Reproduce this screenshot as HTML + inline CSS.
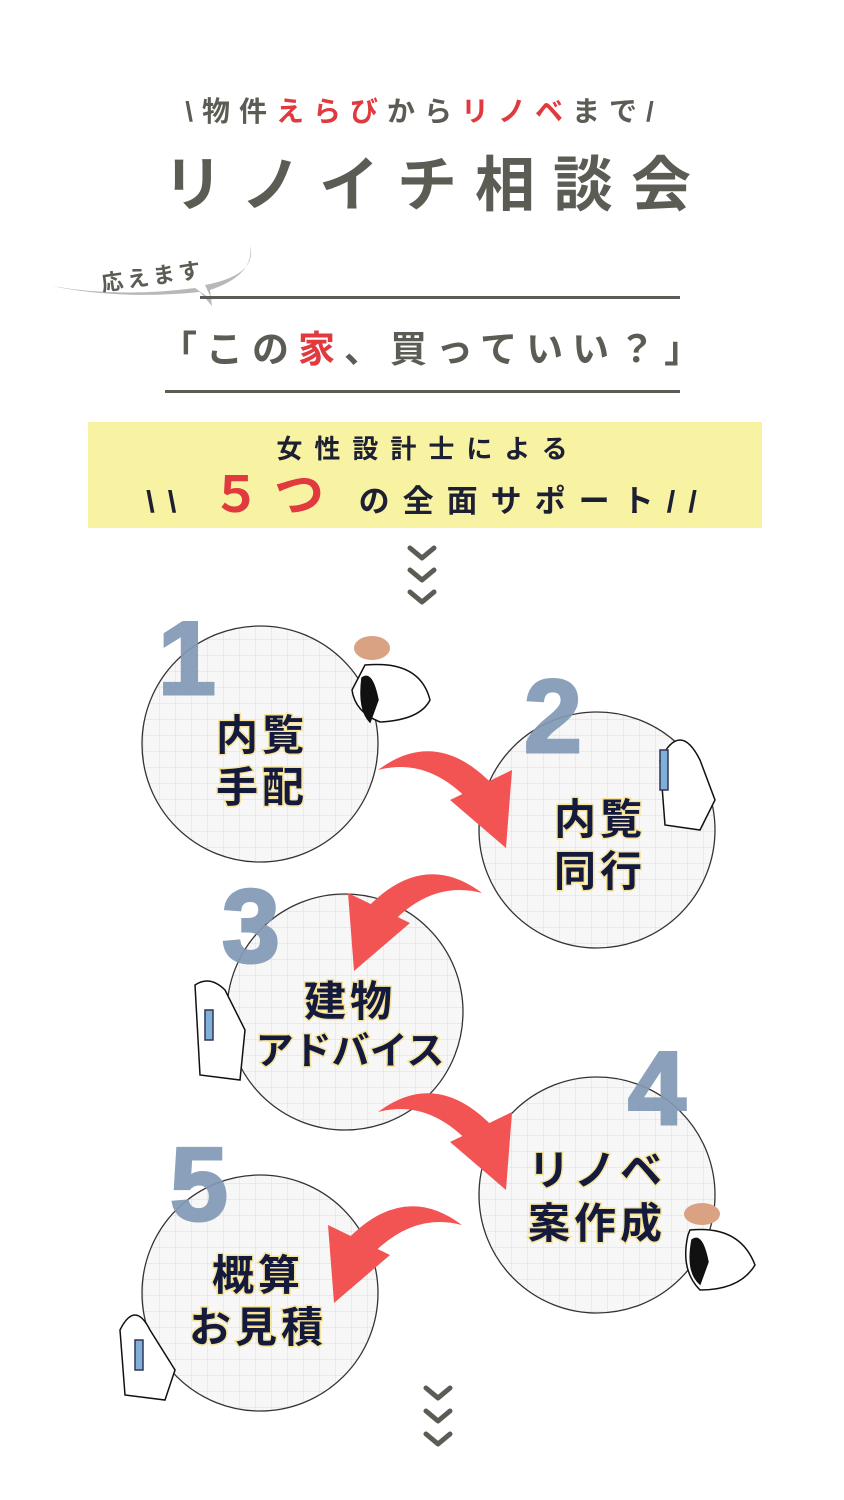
<!DOCTYPE html>
<html><head><meta charset="utf-8"><style>
html,body{margin:0;padding:0;background:#fff;}
svg{display:block;}
.jp{font-family:"Liberation Sans","Noto Sans CJK JP",sans-serif;}
</style></head><body>
<svg width="844" height="1500" viewBox="0 0 844 1500" xmlns="http://www.w3.org/2000/svg" class="jp">
<defs>
<pattern id="g" width="16" height="16" patternUnits="userSpaceOnUse">
<rect width="16" height="16" fill="#f7f7f7"/>
<path d="M16 0V16M0 16H16" stroke="#d9dce1" stroke-width="1"/>
</pattern>
<g id="arrA">
<path d="M0,0 Q60,-45 118,18 L96,36 Q52,-14 0,0 Z" fill="#f25454"/>
<polygon points="72,30 134,0 128,78" fill="#f25454"/>
</g>
</defs>

<!-- Header -->
<text x="424" y="121" text-anchor="middle" font-size="28" font-weight="bold" fill="#5b5d55" letter-spacing="9">\物件<tspan fill="#e0393e">えらび</tspan>から<tspan fill="#e0393e">リノベ</tspan>まで/</text>
<text x="436" y="206" text-anchor="middle" font-size="60" font-weight="bold" fill="#5b5d55" letter-spacing="18">リノイチ相談会</text>

<!-- bubble -->
<path d="M52,286 Q120,300 200,292 L212,306 L210,290 Q255,275 250,245 Q258,275 205,285 L212,300 L195,288 Q120,298 52,286 Z" fill="#b8b8b8"/>
<text x="100" y="283" font-size="22" font-weight="bold" fill="#5b5d55" letter-spacing="4" transform="rotate(-8 160 270)">応えます</text>

<rect x="200" y="296" width="480" height="3" fill="#5b5d55"/>
<text x="160" y="362" font-size="37" font-weight="bold" fill="#5b5d55" letter-spacing="9">「この<tspan fill="#e0393e">家</tspan>、買っていい？」</text>
<rect x="165" y="390" width="515" height="3" fill="#5b5d55"/>

<!-- yellow box -->
<rect x="88" y="422" width="674" height="106" fill="#f8f2a3"/>
<text x="428" y="458" text-anchor="middle" font-size="26" font-weight="bold" fill="#1d1f33" letter-spacing="12">女性設計士による</text>
<text x="428" y="512" text-anchor="middle" font-size="31" font-weight="bold" fill="#1d1f33" letter-spacing="13">\\ <tspan fill="#e0393e" font-size="50">５つ</tspan> の全面サポート//</text>

<!-- chevrons -->
<g fill="none" stroke="#5b5d55" stroke-width="5" stroke-linecap="round" stroke-linejoin="round">
<path d="M410,548 L422,558 L434,548 M410,570 L422,580 L434,570 M410,592 L422,602 L434,592"/>
<path d="M426,1388 L438,1398 L450,1388 M426,1411 L438,1421 L450,1411 M426,1434 L438,1444 L450,1434"/>
</g>

<!-- circles -->
<g stroke="#333" stroke-width="1.3" fill="url(#g)">
<circle cx="260" cy="744" r="118"/>
<circle cx="597" cy="830" r="118"/>
<circle cx="345" cy="1012" r="118"/>
<circle cx="597" cy="1195" r="118"/>
<circle cx="260" cy="1293" r="118"/>
</g>

<!-- numbers -->
<g font-size="104" font-weight="bold" fill="#8299b5" stroke="#8299b5" stroke-width="3" opacity="0.92">
<text x="158" y="694">1</text>
<text x="524" y="752">2</text>
<text x="222" y="962">3</text>
<text x="628" y="1124">4</text>
<text x="170" y="1220">5</text>
</g>

<!-- arrows -->
<use href="#arrA" transform="translate(378,770)"/>
<use href="#arrA" transform="translate(378,1112)"/>
<use href="#arrA" transform="translate(482,893) scale(-1,1)"/>
<use href="#arrA" transform="translate(462,1225) scale(-1,1)"/>

<!-- figures (simplified) -->
<g stroke="#111" stroke-width="1.5" fill="#fff">
<path d="M365,665 Q420,660 430,700 Q420,720 380,722 Q355,712 352,690 Z"/>
<ellipse cx="372" cy="648" rx="18" ry="12" fill="#d9a283" stroke="none"/>
<path d="M362,678 Q372,670 378,700 L370,722 Q358,710 362,678Z" fill="#111"/>
<path d="M660,760 Q680,720 700,760 L715,800 L700,830 L665,825 Z"/>
<rect x="660" y="750" width="8" height="40" fill="#7fb0d8" stroke="#335"/>
<path d="M195,985 Q210,975 225,990 L245,1030 L240,1080 L200,1075 Z"/>
<rect x="205" y="1010" width="8" height="30" fill="#7fb0d8" stroke="#335"/>
<path d="M690,1230 Q740,1225 755,1265 Q740,1290 700,1290 Q680,1270 688,1235 Z"/>
<ellipse cx="702" cy="1214" rx="18" ry="11" fill="#d9a283" stroke="none"/>
<path d="M692,1240 Q702,1232 708,1262 L700,1284 Q686,1272 692,1240Z" fill="#111"/>
<path d="M120,1330 Q135,1300 150,1330 L175,1370 L165,1400 L125,1395 Z"/>
<rect x="135" y="1340" width="8" height="30" fill="#7fb0d8" stroke="#335"/>
</g>

<!-- circle labels -->
<g font-size="42" font-weight="bold" fill="#141a3d" text-anchor="middle" letter-spacing="4" style="paint-order:stroke" stroke="#f6e49a" stroke-width="3">
<text x="262" y="750">内覧</text>
<text x="262" y="802">手配</text>
<text x="600" y="834">内覧</text>
<text x="600" y="886">同行</text>
<text x="350" y="1016">建物</text>
<text x="350" y="1064" font-size="38" letter-spacing="0">アドバイス</text>
<text x="597" y="1185">リノベ</text>
<text x="597" y="1238">案作成</text>
<text x="258" y="1290">概算</text>
<text x="258" y="1342">お見積</text>
</g>
</svg>
</body></html>
